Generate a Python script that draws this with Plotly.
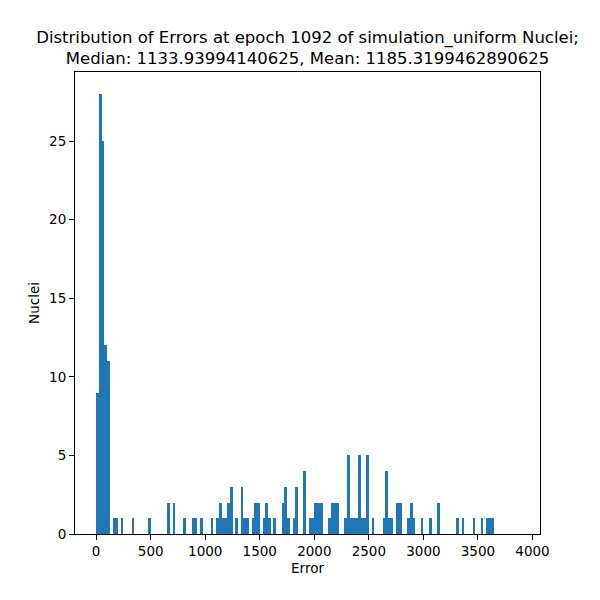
import plotly.graph_objects as go

# histogram of errors, bins are 25 wide; only non-empty bins listed (left edges)
bin_width = 25
bin_lefts = [0, 25, 50, 75, 100, 150, 175, 225, 325, 475, 650, 700, 800, 875, 900, 950,
             1050, 1100, 1125, 1150, 1175, 1200, 1225, 1275, 1325, 1350, 1375, 1425, 1450,
             1475, 1525, 1550, 1575, 1625, 1700, 1725, 1750, 1800, 1825, 1900, 1950, 1975,
             2000, 2025, 2050, 2125, 2150, 2175, 2200, 2275, 2300, 2325, 2350, 2375, 2400,
             2425, 2450, 2475, 2525, 2625, 2650, 2675, 2700, 2750, 2775, 2850, 2875, 2900,
             2975, 3050, 3125, 3300, 3350, 3450, 3525, 3575, 3600, 3625]
counts = [9, 28, 25, 12, 11, 1, 1, 1, 1, 1, 2, 2, 1, 1, 1, 1,
          1, 1, 2, 1, 1, 2, 3, 1, 3, 1, 1, 1, 2,
          2, 1, 2, 1, 1, 2, 3, 1, 1, 3, 4, 1, 1,
          2, 2, 2, 1, 2, 2, 2, 1, 5, 1, 1, 1, 5,
          1, 1, 5, 1, 1, 4, 1, 1, 2, 2, 1, 2, 1,
          1, 1, 2, 1, 1, 1, 1, 1, 1, 1]
x_ticks = [0, 500, 1000, 1500, 2000, 2500, 3000, 3500, 4000]
y_ticks = [0, 5, 10, 15, 20, 25]

title_text = ("Distribution of Errors at epoch 1092 of simulation_uniform Nuclei;<br>"
              "Median: 1133.93994140625, Mean: 1185.3199462890625")

font = "DejaVu Sans"

fig = go.Figure()
fig.add_trace(go.Bar(
    x=bin_lefts,
    y=counts,
    width=bin_width,
    offset=0,
    marker=dict(color="#1f77b4", line=dict(width=0)),
))

axis_style = dict(
    showgrid=False,
    zeroline=False,
    showline=True,
    mirror=True,
    linecolor="black",
    linewidth=1,
    ticks="outside",
    ticklen=5,
    tickwidth=1,
    tickcolor="black",
    tickfont=dict(family=font, size=13.5, color="black"),
)

# the page body adds an 8px offset, so margins are shifted to compensate
fig.update_layout(
    width=600,
    height=600,
    margin=dict(l=67, r=68, t=64, b=74),
    plot_bgcolor="white",
    paper_bgcolor="white",
    bargap=0,
    showlegend=False,
    title=dict(
        text=title_text,
        font=dict(family=font, size=16.5, color="black"),
        x=0.5, xref="paper", xanchor="center",
        y=1 - 35 / 600, yref="container", yanchor="bottom",
    ),
    xaxis=dict(
        range=[-193.75, 4068.75],
        tickvals=x_ticks,
        title=dict(text="Error", font=dict(family=font, size=13.5, color="black"), standoff=5),
        **axis_style,
    ),
    yaxis=dict(
        range=[0, 29.4],
        tickvals=y_ticks,
        title=dict(text="Nuclei", font=dict(family=font, size=13.5, color="black"), standoff=6),
        **axis_style,
    ),
)

fig.write_html("out.html")
